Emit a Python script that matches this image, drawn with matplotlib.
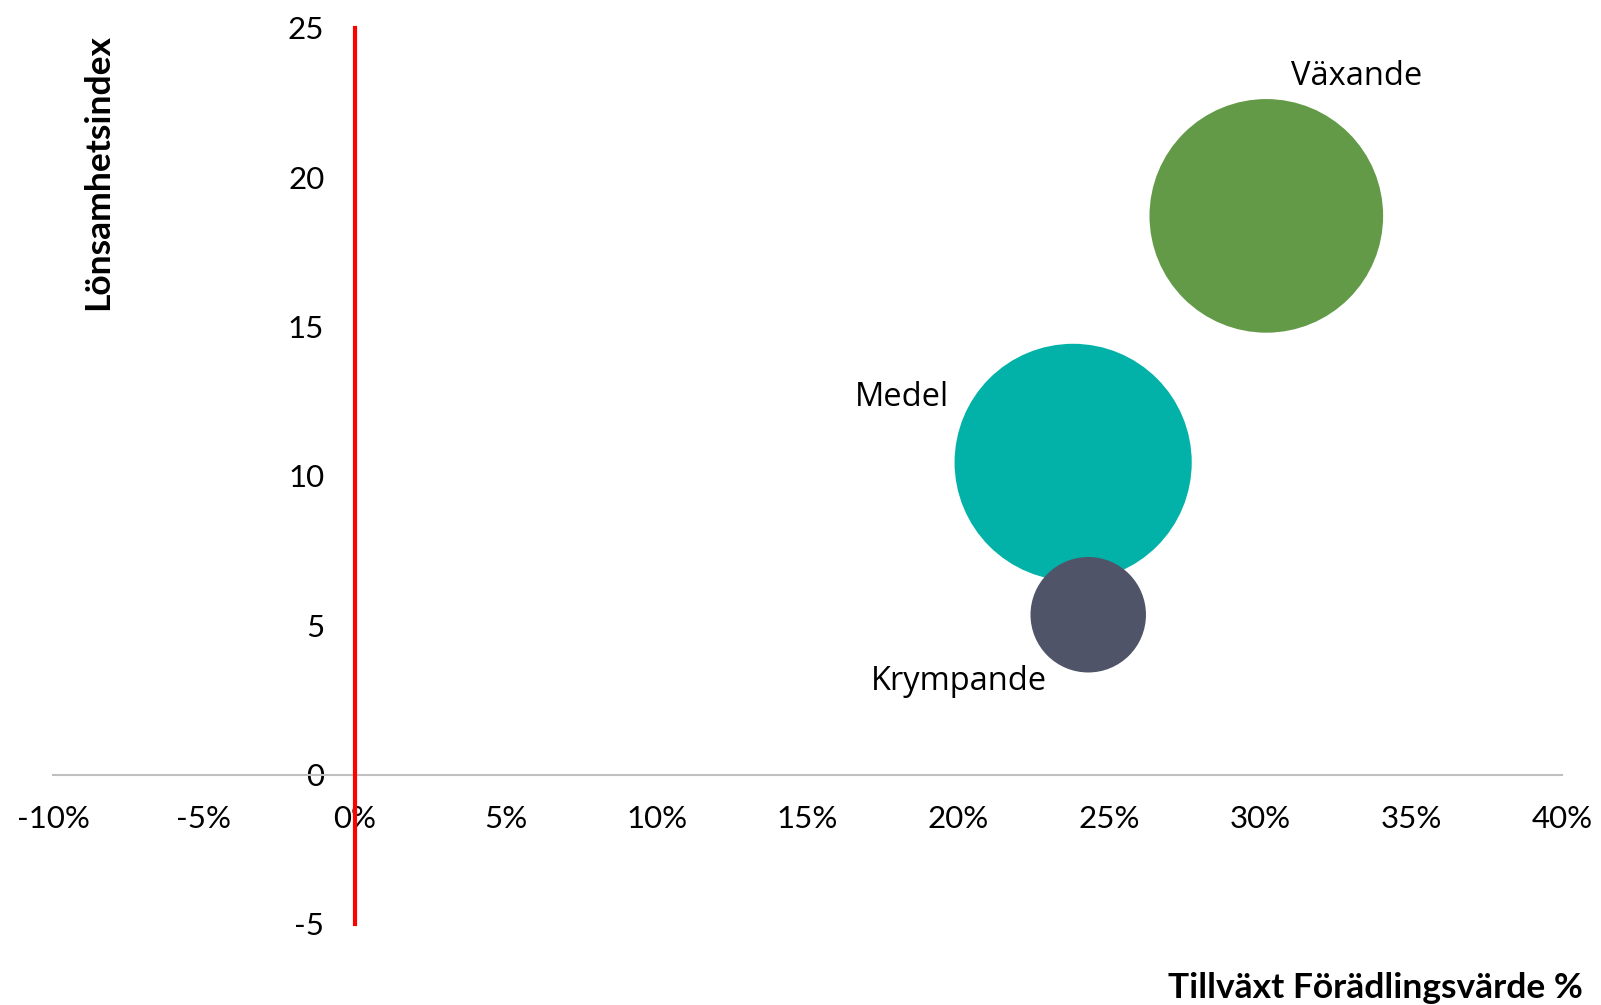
import matplotlib.pyplot as plt
from matplotlib.ticker import FuncFormatter

# data
grupper = ["Växande", "Medel", "Krympande"]
tillvaxt = [30.2, 23.8, 24.3]        # tillväxt förädlingsvärde, %
lonsamhet = [18.7, 10.45, 5.35]      # lönsamhetsindex
storlek = [13.1, 13.5, 3.2]          # bubbelstorlek
farger = ["#639A48", "#02B2A8", "#4F5468"]

x_ticks = [-10, -5, 0, 5, 10, 15, 20, 25, 30, 35, 40]
y_ticks = [-5, 0, 5, 10, 15, 20, 25]

plt.rcParams['axes.unicode_minus'] = False

fig = plt.figure(figsize=(16.01, 10.05), dpi=100)
ax = fig.add_axes([0.0331, 0.0806, 0.9426, 0.8919])

ax.scatter(tillvaxt, lonsamhet, s=[v * 2160 for v in storlek], c=farger,
           linewidths=0, zorder=3, clip_on=False)

# etiketter vid bubblorna (förskjutning i punkter)
offsets = [(65, 100), (-123, 47), (-93, -48)]
for namn, x, y, off in zip(grupper, tillvaxt, lonsamhet, offsets):
    ax.annotate(namn, (x, y), xytext=off, textcoords="offset points",
                ha="center", va="center", fontsize=23.5, family="Open Sans",
                color="black")

ax.set_xlim(-10, 40)
ax.set_ylim(-5, 25)
ax.set_xticks(x_ticks)
ax.set_yticks(y_ticks)
ax.xaxis.set_major_formatter(FuncFormatter(lambda v, p: f"{v:.0f}%"))
ax.yaxis.set_major_formatter(FuncFormatter(lambda v, p: f"{v:.0f}"))

for side in ["top", "right"]:
    ax.spines[side].set_visible(False)
ax.spines["bottom"].set_position(("data", 0))
ax.spines["bottom"].set_color("#BFBFBF")
ax.spines["bottom"].set_linewidth(1.5)
ax.spines["left"].set_position(("data", 0))
ax.spines["left"].set_color("#FF0000")
ax.spines["left"].set_linewidth(3)
ax.spines["left"].set_zorder(4)

ax.tick_params(axis="both", length=0, labelsize=22.5)
ax.tick_params(axis="x", pad=22)
ax.tick_params(axis="y", pad=22)
for lab in ax.get_xticklabels() + ax.get_yticklabels():
    lab.set_family("Lato")

fig.text(0.0612, 0.829, "Lönsamhetsindex", rotation=90, ha="center",
         va="center", fontsize=25.5, fontweight="bold", family="Lato")
fig.text(0.9888, 0.017, "Tillväxt Förädlingsvärde %", ha="right",
         va="center", fontsize=25.5, fontweight="bold", family="Lato")

fig.savefig("out.png", dpi=100)
